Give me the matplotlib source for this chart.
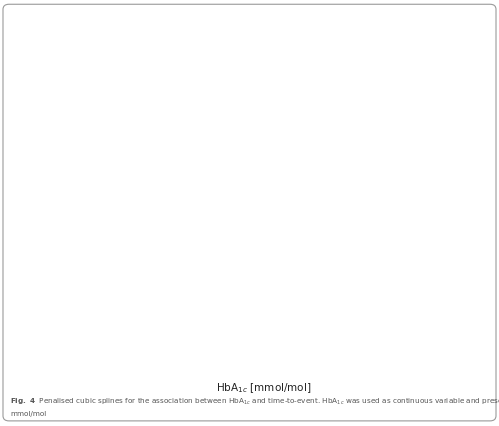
import matplotlib
matplotlib.use("Agg")
import matplotlib.pyplot as plt
import numpy as np
from matplotlib.patches import FancyBboxPatch

panels = ["Cardiovascular mortality", "Cardiovascular disease", "Overall mortality"]

x1 = [25, 27, 30, 32, 34, 35, 36, 38, 40, 42, 45, 48, 52, 56, 60]
fit1 = [0.085, 0.07, 0.04, 0.02, 0.003, 0.0, 0.01, 0.07, 0.14, 0.2, 0.29, 0.35, 0.41, 0.47, 0.55]
up1 = [0.31, 0.22, 0.18, 0.17, 0.17, 0.17, 0.18, 0.21, 0.27, 0.35, 0.5, 0.6, 0.7, 0.82, 0.98]
lo1 = [-0.15, -0.11, -0.12, -0.15, -0.17, -0.17, -0.16, -0.12, -0.05, 0.0, 0.04, 0.05, 0.05, 0.08, 0.11]

x2 = [25, 28, 30, 32, 35, 38, 40, 42, 46, 50, 54, 57, 60]
fit2 = [-0.055, -0.04, -0.03, -0.02, 0.0, 0.04, 0.07, 0.1, 0.15, 0.2, 0.26, 0.33, 0.42]
up2 = [0.21, 0.18, 0.18, 0.19, 0.22, 0.26, 0.3, 0.34, 0.44, 0.55, 0.68, 0.8, 0.93]
lo2 = [-0.21, -0.14, -0.12, -0.11, -0.1, -0.1, -0.1, -0.1, -0.09, -0.09, -0.06, -0.02, 0.01]

x3 = [25, 28, 30, 32, 35, 38, 40, 42, 46, 50, 54, 57, 60]
fit3 = [-0.03, -0.03, -0.025, -0.015, 0.0, 0.03, 0.06, 0.09, 0.13, 0.16, 0.2, 0.24, 0.28]
up3 = [0.22, 0.17, 0.17, 0.17, 0.19, 0.22, 0.25, 0.28, 0.35, 0.41, 0.47, 0.51, 0.55]
lo3 = [-0.2, -0.13, -0.11, -0.1, -0.09, -0.07, -0.05, -0.03, -0.01, -0.005, 0.0, 0.005, 0.01]

rug = [25, 25.5, 26, 26.5, 27, 27.5, 28, 28.5, 29, 29.5, 30, 31, 31.5, 32, 32.5, 33, 34, 34.5, 35,
       36, 37, 37.5, 38, 38.5, 39, 40, 40.5, 41, 41.5, 42, 42.5, 43, 43.5, 44, 44.5, 45, 45.5, 46,
       46.5, 47, 47.5, 48, 48.5, 49, 49.5, 50, 50.5, 51, 52, 52.5, 53, 54, 54.5, 55, 56, 56.5, 57,
       58, 58.5, 59, 59.5, 60]

data = [(x1, fit1, up1, lo1), (x2, fit2, up2, lo2), (x3, fit3, up3, lo3)]

fig = plt.figure(figsize=(4.99, 4.26), dpi=100)
fig.patches.append(FancyBboxPatch((0.006, 0.012), 0.988, 0.978, boxstyle="round,pad=0,rounding_size=0.012",
                                  transform=fig.transFigure, fc="white", ec="#9a9a9a", lw=0.8))
H, W = 426, 499
lefts = [86, 206, 327]
pw = 115
ybot, ytop = 373, 21
for i, (name, (xs, f, u, l)) in enumerate(zip(panels, data)):
    ax = fig.add_axes([lefts[i] / W, 1 - ybot / H, pw / W, (ybot - ytop) / H])
    xx = np.linspace(25, 60, 300)
    ax.fill_between(xx, np.interp(xx, xs, l), np.interp(xx, xs, u), color="#dcdcfb", lw=0, zorder=2)
    ax.plot(xx, np.interp(xx, xs, f), color="#1a1a3a", lw=0.8, zorder=4)
    ax.axhline(0, color="#b0b0b0", ls=(0, (5, 4)), lw=0.8, zorder=3)
    ax.vlines(rug, -0.28, -0.245, color="#222222", lw=0.6, zorder=3)
    ax.set_xlim(23.5, 60.6)
    ax.set_ylim(-0.28, 1.057)
    ax.set_xticks([30, 40, 50, 60])
    ax.set_xticks([25, 35, 45, 55], minor=True)
    ax.set_yticks([-0.25, 0, 0.25, 0.5, 0.75, 1.0])
    ax.set_yticks([-0.125, 0.125, 0.375, 0.625, 0.875], minor=True)
    ax.grid(True, which="major", color="#ebebeb", lw=0.6)
    ax.grid(True, which="minor", color="#f4f4f4", lw=0.4)
    ax.set_axisbelow(True)
    for s in ax.spines.values():
        s.set_color("#555555"); s.set_linewidth(0.8)
    ax.tick_params(labelsize=6, length=2, color="#555555", labelcolor="#444444", pad=1.5)
    ax.tick_params(which="minor", length=0)
    if i == 0:
        ax.set_yticklabels(["-0.25", "0.00", "0.25", "0.50", "0.75", "1.00"])
        ax.set_ylabel("log hazard ratio", fontsize=7, labelpad=4)
    else:
        ax.tick_params(axis="y", labelleft=False, length=0)
    sax = fig.add_axes([lefts[i] / W, 1 - ytop / H, pw / W, 13 / H])
    sax.set_facecolor("#d9d9d9")
    sax.set_xticks([]); sax.set_yticks([])
    for s in sax.spines.values():
        s.set_color("#555555"); s.set_linewidth(0.8)
    sax.text(0.5, 0.45, name, ha="center", va="center", fontsize=5.5, color="#333333", transform=sax.transAxes)

fig.text(264 / W, 1 - 388 / H, r"HbA$_{1c}$ [mmol/mol]", ha="center", va="center", fontsize=7.5, color="#222222")
fig.text(10 / W, 1 - 402 / H,
         r"$\bf{Fig.\ 4}$  Penalised cubic splines for the association between HbA$_{1c}$ and time-to-event. HbA$_{1c}$ was used as continuous variable and presented in",
         fontsize=5.2, color="#555555", va="center")
fig.text(10 / W, 1 - 414 / H, "mmol/mol", fontsize=5.2, color="#555555", va="center")
fig.savefig("out.png", dpi=100)
